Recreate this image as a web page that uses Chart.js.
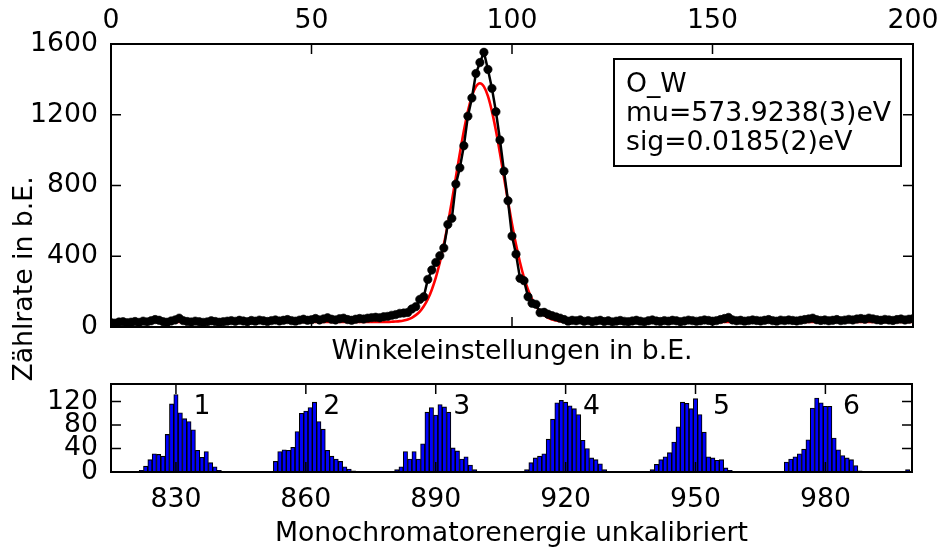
<!DOCTYPE html>
<html><head><meta charset="utf-8">
<script src="https://cdn.jsdelivr.net/npm/chart.js@4.4.0/dist/chart.umd.min.js"></script>
<style>
html,body{margin:0;padding:0;background:#fff;}
#wrap{position:relative;width:940px;height:550px;overflow:hidden;background:#fff;}
#top{position:absolute;left:0;top:0;width:940px;height:400px;}
#bot{position:absolute;left:0;top:380px;width:940px;height:170px;}
</style></head><body>
<div id="wrap"><canvas id="top" width="940" height="400"></canvas><canvas id="bot" width="940" height="170"></canvas></div>
<script>
// ---------- data: top panel (angle scan) ----------
const angleStart = 0;
const countsW = [
 25,22,28,30,24,27,31,26,33,29, 35,42,38,30,27,34,40,50,36,31,
 28,33,30,26,29,35,31,27,30,33, 36,32,38,34,30,37,33,39,35,31,
 36,40,34,38,42,36,33,39,44,38, 41,48,40,46,52,44,40,47,50,42,
 38,44,48,45,50,53,55,52,58,60, 66,70,77,79,82,102,115,156,171,269,
 322,365,403,447,580,614,808,900,1025,1192, 1295,1433,1495,1553,1456,1349,1217,1057,881,714,
 514,412,275,262,171,134,128,81,83,72, 64,57,50,42,33,38,35,40,32,36,
 30,34,38,31,35,29,33,37,32,30, 34,38,33,29,35,40,34,31,36,33,
 38,35,30,34,39,36,32,35,40,37, 33,36,42,48,54,40,35,38,33,36,
 40,37,34,38,42,36,33,39,36,40, 37,34,38,42,46,50,41,37,40,35,
 38,42,36,39,43,40,45,48,44,50, 46,41,38,43,40,37,42,45,40,44,
 47
];
const fitX = [0,50,66,68,70,71,72,73,74,75,76,77,78,79,80,81,82,83,84,85,86,87,88,89,90,91,92,93,94,95,96,97,98,99,100,101,102,103,104,105,106,107,108,109,110,111,112,114,116,118,120,150,200];
const fitY = [28,28,28,28,30,31,33,37,43,52,67,87,117,157,211,279,365,466,583,711,847,982,1109,1219,1305,1359,1378,1359,1305,1219,1109,982,847,711,583,466,365,279,211,157,117,87,67,52,43,37,33,30,29,28,28,28,28];
const angleTicks = [0, 50, 100, 150, 200];
const countTicks = [0, 400, 800, 1200, 1600];
const fitInfo = ['O_W', 'mu=573.9238(3)eV', 'sig=0.0185(2)eV'];

// ---------- data: bottom panel (histogram) ----------
const binEnergy = [
 822,823,824,825,826,827,828,829,830,831,832,833,834,835,836,837,838,839,840,841,
 853,854,855,856,857,858,859,860,861,862,863,864,865,866,867,868,869,870,871,
 881,882,883,884,885,886,887,888,889,890,891,892,893,894,895,896,897,898,899,
 911,912,913,914,915,916,917,918,919,920,921,922,923,924,925,926,927,928,929,
 940,941,942,943,944,945,946,947,948,949,950,951,952,953,954,955,956,957,958,959,
 971,972,973,974,975,976,977,978,979,980,981,982,983,984,985,986,987,988,
 999
];
const binCount = [
 3,10,21,31,30,27,64,116,132,101,91,86,72,37,25,35,16,9,3,1,
 18,35,38,37,42,69,100,104,110,119,86,73,37,27,22,18,9,5,2,
 4,9,35,22,35,22,48,102,110,97,115,111,102,41,36,22,26,12,4,
 4,16,24,27,31,56,90,118,122,119,113,108,98,54,40,24,21,14,4,
 4,13,21,26,33,51,77,119,117,108,125,98,68,26,24,20,21,7,3,1,
 17,22,26,31,39,55,109,126,118,112,112,58,38,28,24,21,11,2,
 4
];
const energyTicks = [830, 860, 890, 920, 950, 980];
const histTicks = [0, 40, 80, 120];
const peakLabels = ['1', '2', '3', '4', '5', '6'];
const peakLabelX = [836, 866, 896, 926, 956, 986];
const peakLabelY = 110;

// ---------- styling ----------
const FAMILY = 'DejaVu Sans';
const FSIZE = 26.7;
const FONT = {family: FAMILY, size: FSIZE};
const FONTSTR = FSIZE + 'px "' + FAMILY + '"';
const TICK = 10;

function fixTicks(list){ return s => { s.ticks = list.map(v => ({value: v})); }; }
function noPad(s){ s.paddingTop = 0; s.paddingBottom = 0; s.paddingLeft = 0; s.paddingRight = 0; }
const plain = v => String(v);

const framePlugin = {
  id: 'frame',
  afterDraw(chart) {
    const {ctx, chartArea: a} = chart;
    const xs = chart.scales.x, ys = chart.scales.y;
    ctx.save();
    ctx.strokeStyle = '#000';
    ctx.lineWidth = 1.5;
    ctx.beginPath();
    xs.ticks.forEach(t => {
      const p = xs.getPixelForValue(t.value);
      ctx.moveTo(p, a.top); ctx.lineTo(p, a.top + TICK);
      ctx.moveTo(p, a.bottom); ctx.lineTo(p, a.bottom - TICK);
    });
    ys.ticks.forEach(t => {
      const p = ys.getPixelForValue(t.value);
      ctx.moveTo(a.left, p); ctx.lineTo(a.left + TICK, p);
      ctx.moveTo(a.right, p); ctx.lineTo(a.right - TICK, p);
    });
    ctx.stroke();
    ctx.lineWidth = 2;
    ctx.strokeRect(a.left, a.top, a.right - a.left, a.bottom - a.top);
    ctx.restore();
  }
};

const infoBoxPlugin = {
  id: 'infoBox',
  afterDraw(chart) {
    const {ctx, chartArea: a} = chart;
    const w = 287, h = 107;
    const x0 = a.right - 12 - w, y0 = a.top + 15;
    ctx.save();
    ctx.fillStyle = '#fff';
    ctx.fillRect(x0, y0, w, h);
    ctx.strokeStyle = '#000';
    ctx.lineWidth = 2;
    ctx.strokeRect(x0, y0, w, h);
    ctx.fillStyle = '#000';
    ctx.font = FONTSTR;
    ctx.textAlign = 'left';
    ctx.textBaseline = 'alphabetic';
    const offs = [33, 62, 90.5];
    fitInfo.forEach((t, i) => ctx.fillText(t, x0 + 12, y0 + offs[i]));
    ctx.restore();
  }
};

const yTitlePlugin = {
  id: 'yTitle',
  afterDraw(chart) {
    const {ctx} = chart;
    ctx.save();
    ctx.translate(25, 279);
    ctx.rotate(-Math.PI / 2);
    ctx.fillStyle = '#000';
    ctx.font = FONTSTR;
    ctx.textAlign = 'center';
    ctx.textBaseline = 'middle';
    ctx.fillText('Zählrate in b.E.', 0, 0);
    ctx.restore();
  }
};

const peakLabelPlugin = {
  id: 'peakLabels',
  afterDraw(chart) {
    const {ctx} = chart;
    const xs = chart.scales.x, ys = chart.scales.y;
    ctx.save();
    ctx.fillStyle = '#000';
    ctx.font = FONTSTR;
    ctx.textAlign = 'center';
    ctx.textBaseline = 'middle';
    peakLabels.forEach((t, i) => ctx.fillText(t, xs.getPixelForValue(peakLabelX[i]), ys.getPixelForValue(peakLabelY)));
    ctx.restore();
  }
};

const noGrid = {display: false, drawTicks: false};
const noBorder = {display: false};

// ---------- top chart ----------
new Chart(document.getElementById('top'), {
  type: 'line',
  data: {
    datasets: [
      {
        label: 'fit',
        data: fitX.map((x, i) => ({x, y: fitY[i]})),
        borderColor: '#ff0000', borderWidth: 2.6,
        pointRadius: 0, cubicInterpolationMode: 'monotone',
        order: 2
      },
      {
        label: 'O_W',
        data: countsW.map((y, i) => ({x: angleStart + i, y})),
        borderColor: '#000', borderWidth: 2.5,
        pointRadius: 4.2, pointBorderWidth: 0.6,
        pointBackgroundColor: '#000', pointBorderColor: '#000',
        order: 1
      }
    ]
  },
  options: {
    responsive: false, animation: false, devicePixelRatio: 1,
    layout: {padding: 0},
    plugins: {legend: {display: false}, tooltip: {enabled: false}},
    scales: {
      x: {
        type: 'linear', position: 'top', min: 0, max: 200,
        afterBuildTicks: fixTicks(angleTicks),
        grid: noGrid, border: noBorder,
        ticks: {font: FONT, color: '#000', padding: 7, maxRotation: 0, autoSkip: false, callback: plain},
        afterFit: s => { s.height = 44; noPad(s); }
      },
      xb: {
        type: 'linear', position: 'bottom', min: 0, max: 200,
        grid: noGrid, border: noBorder,
        ticks: {display: false},
        title: {display: true, text: 'Winkeleinstellungen in b.E.', font: FONT, color: '#000', padding: {top: 0, bottom: 32}},
        afterFit: s => { s.height = 73; noPad(s); }
      },
      y: {
        type: 'linear', position: 'left', min: 0, max: 1600,
        afterBuildTicks: fixTicks(countTicks),
        grid: noGrid, border: noBorder,
        ticks: {font: FONT, color: '#000', padding: 13, autoSkip: false, callback: plain},
        afterFit: s => { s.width = 111; noPad(s); }
      },
      yr: {
        type: 'linear', position: 'right', min: 0, max: 1600,
        grid: noGrid, border: noBorder,
        ticks: {display: false},
        afterFit: s => { s.width = 27; noPad(s); }
      }
    }
  },
  plugins: [framePlugin, infoBoxPlugin, yTitlePlugin]
});

// ---------- bottom chart ----------
new Chart(document.getElementById('bot'), {
  type: 'bar',
  data: {
    datasets: [{
      label: 'hist',
      data: binEnergy.map((x, i) => ({x, y: binCount[i]})),
      backgroundColor: '#0000ff', borderColor: '#000', borderWidth: 1.1,
      barPercentage: 1, categoryPercentage: 1, borderSkipped: 'start'
    }]
  },
  options: {
    responsive: false, animation: false, devicePixelRatio: 1,
    layout: {padding: {top: 4, left: 0, right: 0, bottom: 0}},
    plugins: {legend: {display: false}, tooltip: {enabled: false}},
    scales: {
      x: {
        type: 'linear', position: 'bottom', min: 815, max: 1000, offset: false,
        afterBuildTicks: fixTicks(energyTicks),
        grid: noGrid, border: noBorder,
        ticks: {font: FONT, color: '#000', padding: 12, maxRotation: 0, autoSkip: false, callback: plain},
        title: {display: true, text: 'Monochromatorenergie unkalibriert', font: FONT, color: '#000', padding: {top: 0, bottom: 0}},
        afterFit: s => { s.height = 78; noPad(s); }
      },
      y: {
        type: 'linear', position: 'left', min: 0, max: 150,
        afterBuildTicks: fixTicks(histTicks),
        grid: noGrid, border: noBorder,
        ticks: {font: FONT, color: '#000', padding: 13, autoSkip: false, callback: plain},
        afterFit: s => { s.width = 111; noPad(s); }
      },
      yr: {
        type: 'linear', position: 'right', min: 0, max: 150,
        grid: noGrid, border: noBorder,
        ticks: {display: false},
        afterFit: s => { s.width = 28; noPad(s); }
      }
    }
  },
  plugins: [framePlugin, peakLabelPlugin]
});
</script>
</body></html>
